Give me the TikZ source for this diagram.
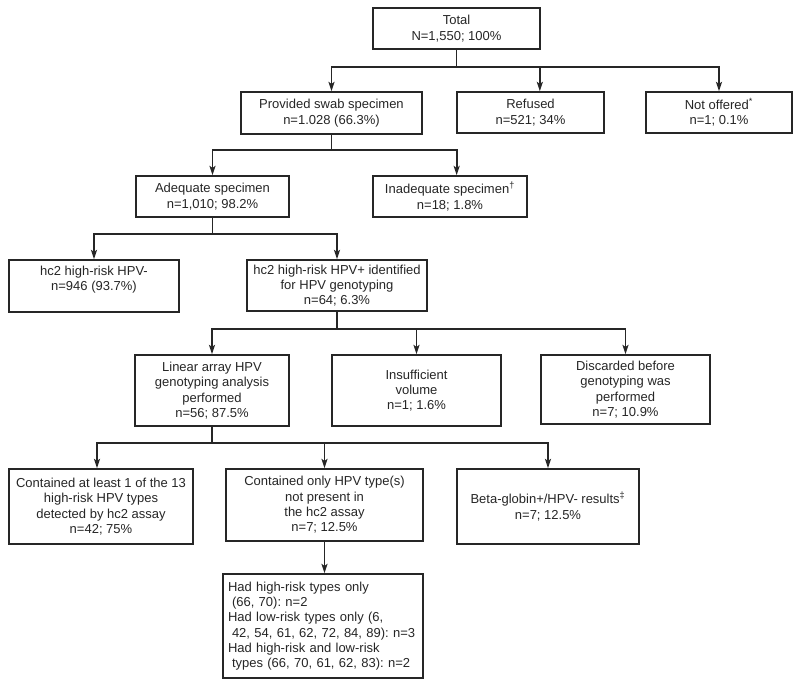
\documentclass[tikz,border=0pt]{standalone}
\usepackage{fontspec}
\setmainfont{Liberation Sans}
\usepackage{xcolor}
\usetikzlibrary{arrows.meta}
\definecolor{ink}{HTML}{262626}
\tikzset{
  box/.style={
    draw=ink,
    line width=1.25pt,
    fill=white,
    align=center,
    text=ink,
    inner sep=2pt,
    font=\fontsize{9.75}{11.5}\selectfont\frenchspacing
  },
  listbox/.style={box, align=left, inner xsep=3.75pt, text width=142.5pt},
  flow/.style={draw=ink, line width=1.25pt, -{Stealth[length=7pt,width=4.6pt,inset=1.6pt]}}
}

\begin{document}
\begin{tikzpicture}[x=0.75pt,y=-0.75pt]
\useasboundingbox (0,0) rectangle (800,684);
\fill[white] (0,0) rectangle (800,684);

% top level
\node[box, minimum width=125.25pt, minimum height=30.75pt] (total) at (456.5,28.5) {Total\\N=1,550; 100\%};

\node[box, minimum width=135.75pt, minimum height=31.5pt] (provided) at (331.5,113) {Provided swab specimen\\n=1.028 (66.3\%)};
\node[box, minimum width=110.25pt, minimum height=30.75pt] (refused) at (530.5,112.5) {Refused\\n=521; 34\%};
\node[box, minimum width=109.5pt, minimum height=30.75pt] (notoffered) at (719,112.5) {Not offered\textsuperscript{*}\\n=1; 0.1\%};

% specimen quality
\node[box, minimum width=114.75pt, minimum height=30.75pt] (adequate) at (212.5,196.5) {Adequate specimen\\n=1,010; 98.2\%};
\node[box, minimum width=115.5pt, minimum height=30.75pt] (inadequate) at (450,196.5) {Inadequate specimen\textsuperscript{\textdagger}\\n=18; 1.8\%};

% hc2 result
\node[box, minimum width=127.5pt, minimum height=39pt] (hpvneg) at (94,286) {hc2 high-risk HPV-\\n=946 (93.7\%)\\~};
\node[box, minimum width=135pt, minimum height=38.25pt] (hpvpos) at (337,285.5) {hc2 high-risk HPV+ identified\\for HPV genotyping\\n=64; 6.3\%};

% genotyping
\node[box, minimum width=115.5pt, minimum height=53.25pt] (linear) at (212,390.5) {Linear array HPV\\genotyping analysis\\performed\\n=56; 87.5\%};
\node[box, minimum width=126.75pt, minimum height=53.25pt] (insufficient) at (416.5,390.5) {Insufficient\\volume\\n=1; 1.6\%};
\node[box, minimum width=126.75pt, minimum height=51.75pt] (discarded) at (625.5,389.5) {Discarded before\\genotyping was\\performed\\n=7; 10.9\%};

% linear array results
\node[box, minimum width=138pt, minimum height=56.25pt] (highrisk) at (101,506.5) {Contained at least 1 of the 13\\high-risk HPV types\\detected by hc2 assay\\n=42; 75\%};
\node[box, minimum width=147.75pt, minimum height=54pt] (onlytypes) at (324.5,505) {Contained only HPV type(s)\\not present in\\the hc2 assay\\n=7; 12.5\%};
\node[box, minimum width=136.5pt, minimum height=56.25pt] (betaglobin) at (548,506.5) {Beta-globin+/HPV- results\textsuperscript{\textdaggerdbl}\\n=7; 12.5\%};

\node[listbox, minimum height=78pt] (breakdown) at (323,626) {Had high-risk types only\\\hspace*{3pt}(66, 70): n=2\\Had low-risk types only (6,\\\hspace*{3pt}42, 54, 61, 62, 72, 84, 89): n=3\\Had high-risk and low-risk\\\hspace*{3pt}types (66, 70, 61, 62, 83): n=2};

% connectors
\draw[flow] (total.south) -- ++(0,17) -| (provided.north);
\draw[flow] (total.south) -- ++(0,17) -| ([xshift=7pt]refused.north);
\draw[flow] (total.south) -- ++(0,17) -| (notoffered.north);

\draw[flow] (provided.south) -- ++(0,15) -| (adequate.north);
\draw[flow] (provided.south) -- ++(0,15) -| ([xshift=5pt]inadequate.north);

\draw[flow] (adequate.south) -- ++(0,16) -| (hpvneg.north);
\draw[flow] (adequate.south) -- ++(0,16) -| (hpvpos.north);

\draw[flow] (hpvpos.south) -- ++(0,17) -| (linear.north);
\draw[flow] (hpvpos.south) -- ++(0,17) -| (insufficient.north);
\draw[flow] (hpvpos.south) -- ++(0,17) -| (discarded.north);

\draw[flow] (linear.south) -- ++(0,16) -| ([xshift=-3pt]highrisk.north);
\draw[flow] (linear.south) -- ++(0,16) -| (onlytypes.north);
\draw[flow] (linear.south) -- ++(0,16) -| (betaglobin.north);

\draw[flow] (onlytypes.south) -- (onlytypes.south |- breakdown.north);

\end{tikzpicture}
\end{document}
